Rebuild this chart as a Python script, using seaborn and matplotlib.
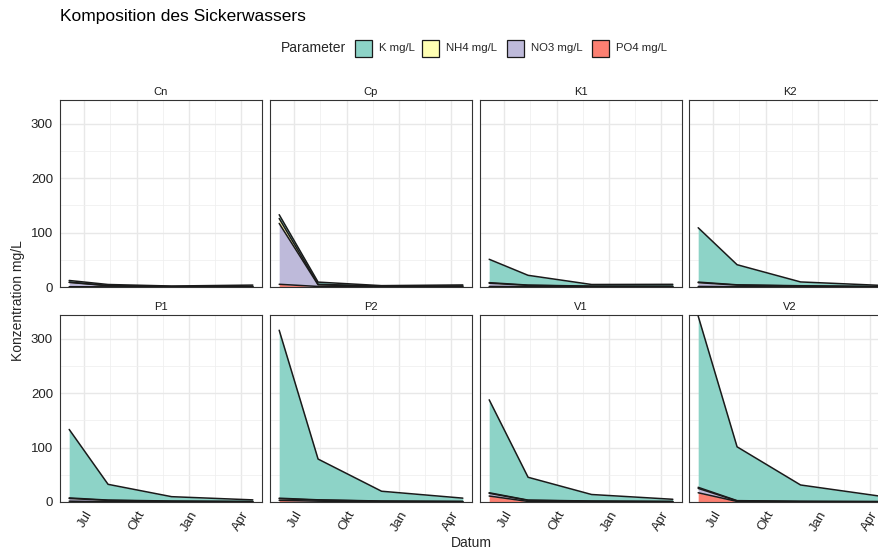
import numpy as np
import pandas as pd
import matplotlib
matplotlib.use("Agg")
import matplotlib.pyplot as plt
from matplotlib.patches import Rectangle
from matplotlib.ticker import MultipleLocator, FixedLocator
import matplotlib.dates as mdates
import seaborn as sns

# ---------------- data ----------------
sites = ["Cn", "Cp", "K1", "K2", "P1", "P2", "V1", "V2"]
parameters = ["K mg/L", "NH4 mg/L", "NO3 mg/L", "PO4 mg/L"]
dates = ["2021-06-05", "2021-08-12", "2021-12-01", "2022-04-22"]
month_ticks = ["2021-07-01", "2021-10-01", "2022-01-01", "2022-04-01"]
month_labels = ["Jul", "Okt", "Jan", "Apr"]
y_ticks = [0, 100, 200, 300]

k_mgl = {
    "Cn": [3, 2, 1, 2.5],
    "Cp": [7, 4, 1, 2],
    "K1": [43, 18, 3, 3.5],
    "K2": [100, 37, 7, 2],
    "P1": [126, 29, 8, 3],
    "P2": [309, 75, 18, 6],
    "V1": [171, 42, 12, 4],
    "V2": [315, 99, 30, 9.5],
}
nh4_mgl = {
    "Cn": [0.5, 0.3, 0.2, 0.3],
    "Cp": [9, 1, 0.3, 0.5],
    "K1": [1, 0.5, 0.3, 0.3],
    "K2": [1, 0.5, 0.5, 0.2],
    "P1": [1, 0.5, 0.5, 0.2],
    "P2": [1, 0.5, 0.3, 0.3],
    "V1": [1, 0.5, 0.3, 0.2],
    "V2": [2, 0.5, 0.3, 0.2],
}
no3_mgl = {
    "Cn": [8, 2, 0.5, 0.5],
    "Cp": [112, 3, 1, 1],
    "K1": [6, 2.5, 1, 0.8],
    "K2": [7, 3, 1.5, 0.5],
    "P1": [5, 2.5, 1, 0.5],
    "P2": [3, 2, 1, 0.5],
    "V1": [5, 2, 1, 0.5],
    "V2": [8, 1, 0.5, 0.3],
}
po4_mgl = {
    "Cn": [0.5, 0.3, 0.1, 0.2],
    "Cp": [5, 1, 0.2, 0.3],
    "K1": [1, 0.5, 0.3, 0.3],
    "K2": [1, 0.5, 0.3, 0.2],
    "P1": [1.5, 0.5, 0.3, 0.2],
    "P2": [3, 1.5, 0.5, 0.3],
    "V1": [11, 1, 0.5, 0.3],
    "V2": [17, 1, 0.5, 0.3],
}

colors = {"K mg/L": "#8DD3C7", "NH4 mg/L": "#FFFFB3",
          "NO3 mg/L": "#BEBADA", "PO4 mg/L": "#FB8072"}
Y_MAX = 344

# long table
rows = []
for p, src in zip(parameters, [k_mgl, nh4_mgl, no3_mgl, po4_mgl]):
    for s in sites:
        for d, v in zip(dates, src[s]):
            rows.append({"Standort": s, "Datum": pd.Timestamp(d), "Parameter": p, "Wert": v})
df = pd.DataFrame(rows)

# ---------------- style ----------------
sns.set_theme(style="white")
plt.rcParams["font.family"] = ["Liberation Sans", "DejaVu Sans"]

W, H = 879, 551
fig = plt.figure(figsize=(W / 100, H / 100), dpi=100)

def fx(px):
    return px / W

def fy(py):
    return 1 - py / H

col_left = [60, 270, 480, 689]
panel_w = 202
row_top = [100, 315]
panel_h = 187

d_all = pd.to_datetime(df["Datum"])
dmin, dmax = d_all.min(), d_all.max()
span = dmax - dmin
xlim = (dmin - span * 0.05, dmax + span * 0.05)

maj = pd.to_datetime(month_ticks)
minors = [maj[i] + (maj[i + 1] - maj[i]) / 2 for i in range(len(maj) - 1)]

stack_order = parameters[::-1]  # bottom -> top : PO4, NO3, NH4, K

for i, site in enumerate(sites):
    r, c = divmod(i, 4)
    ax = fig.add_axes([fx(col_left[c]), fy(row_top[r] + panel_h), fx(panel_w), panel_h / H])
    sub = df[df["Standort"] == site]
    wide = sub.pivot(index="Datum", columns="Parameter", values="Wert").sort_index()
    x = wide.index
    lower = np.zeros(len(wide))
    layers = []
    for p in stack_order:
        upper = lower + wide[p].values
        ax.fill_between(x, lower, upper, color=colors[p], lw=0, zorder=2)
        layers.append(pd.DataFrame({"Datum": x, "oben": upper, "Parameter": p}))
        lower = upper
    lines = pd.concat(layers)
    sns.lineplot(data=lines, x="Datum", y="oben", units="Parameter", estimator=None,
                 color="#1a1a1a", lw=1.1, ax=ax, legend=False, zorder=3)
    ax.set_xlabel("")
    ax.set_ylabel("")
    ax.set_xlim(xlim)
    ax.set_ylim(0, Y_MAX)
    ax.set_xticks(maj)
    ax.xaxis.set_minor_locator(FixedLocator(mdates.date2num(minors)))
    ax.set_yticks(y_ticks)
    ax.yaxis.set_minor_locator(MultipleLocator(50))
    ax.set_axisbelow(True)
    ax.grid(which="major", color="#E8E8E8", lw=1.0, zorder=0)
    ax.grid(which="minor", color="#EFEFEF", lw=0.55, zorder=0)
    ax.tick_params(which="minor", length=0)
    ax.tick_params(which="major", length=3, width=0.8, color="#333333",
                   labelsize=9.5, labelcolor="#222222", pad=2)
    for sp in ax.spines.values():
        sp.set_color("#333333")
        sp.set_linewidth(0.8)
    if c == 0:
        ax.set_yticklabels([str(t) for t in y_ticks])
    else:
        ax.tick_params(axis="y", left=False, labelleft=False)
    if r == 1:
        ax.set_xticklabels(month_labels, rotation=60, ha="right", va="top",
                           rotation_mode="anchor")
    else:
        ax.tick_params(axis="x", bottom=False, labelbottom=False)
    ax.text(0.5, 1 + 8 / panel_h, site, transform=ax.transAxes, ha="center",
            va="center", fontsize=8, color="#1a1a1a")

# title
fig.text(fx(60), fy(17), "Komposition des Sickerwassers", fontsize=12.5,
         ha="left", va="center", color="#000000")

# legend
fig.text(fx(281), fy(48), "Parameter", fontsize=10, ha="left", va="center")
key_x = [355, 422, 507, 592]
for p, kx in zip(parameters, key_x):
    fig.add_artist(Rectangle((fx(kx), fy(57)), fx(17), 17 / H, facecolor=colors[p],
                             edgecolor="#1a1a1a", lw=0.9, transform=fig.transFigure))
    fig.text(fx(kx + 24), fy(48), p, fontsize=8.2, ha="left", va="center")

# axis titles
fig.text(fx(18), fy(301), "Konzentration mg/L", rotation=90, fontsize=10,
         ha="center", va="center")
fig.text(fx(471), fy(543), "Datum", fontsize=10, ha="center", va="center")

fig.savefig("out.png", dpi=100)
